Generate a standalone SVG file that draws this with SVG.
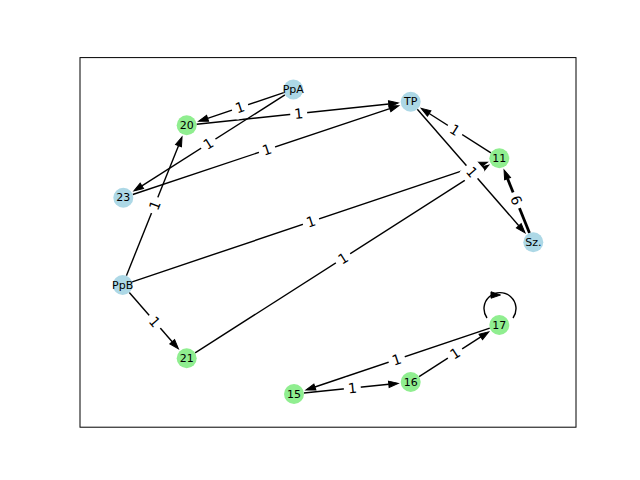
<svg xmlns="http://www.w3.org/2000/svg" width="640" height="480" viewBox="0 0 640 480">
<defs>
<marker id="ah" markerUnits="userSpaceOnUse" markerWidth="14" markerHeight="10" refX="0" refY="0" viewBox="-1 -5 12 10" orient="auto" overflow="visible">
<path d="M0,-3.2 L9.5,0 L0,3.2 Z" fill="#000" stroke="#000" stroke-width="1" stroke-linejoin="miter"/>
</marker>
</defs>
<style>
.e{stroke:#000;stroke-width:1.4;fill:none;marker-end:url(#ah)}
.nb{fill:#add8e6}
.ng{fill:#90ee90}
.nt{font-family:"DejaVu Sans",sans-serif;font-size:11px;text-anchor:middle;dominant-baseline:central;fill:#000}
.lt{font-family:"DejaVu Sans",sans-serif;font-size:14px;text-anchor:middle;dominant-baseline:central;fill:#000}
.lb{fill:#fff}
</style>
<rect width="640" height="480" fill="#fff"/>
<rect x="80" y="57.6" width="496" height="369.6" fill="none" stroke="#000" stroke-width="1"/>
<g id="connectors">
<line class="e" x1="283.8" y1="92.7" x2="207.6" y2="118.3"/>
<line class="e" x1="284.9" y1="94.9" x2="141.9" y2="185.9"/>
<line class="e" x1="196.6" y1="124.3" x2="388.8" y2="104.0"/>
<line class="e" x1="132.8" y1="194.5" x2="389.8" y2="108.7"/>
<line class="e" x1="126.4" y1="275.7" x2="178.5" y2="145.7"/>
<line class="e" x1="132.2" y1="281.8" x2="478.4" y2="165.3"/>
<line class="e" x1="129.3" y1="292.5" x2="172.2" y2="341.7"/>
<line class="e" x1="195.1" y1="352.9" x2="480.8" y2="170.2"/>
<line class="e" x1="417.3" y1="109.2" x2="518.8" y2="225.7"/>
<line class="e" x1="490.9" y1="152.9" x2="429.2" y2="113.5"/>
<line class="e" x1="529.5" y1="233.0" x2="507.6" y2="178.7" style="stroke-width:2.8"/>
<line class="e" x1="489.8" y1="328.2" x2="314.9" y2="387.0"/>
<line class="e" x1="303.9" y1="393.0" x2="388.8" y2="384.3"/>
<line class="e" x1="419.1" y1="376.6" x2="480.8" y2="336.9"/>
<path d="M487,318 A16,16 0 1 1 513,318" stroke="#000" stroke-width="1.4" fill="none"/>
<path d="M491,291.8 L500.5,295 L491,298.2 Z" fill="#000" stroke="#000" stroke-width="1"/>
</g>
<g id="edge-labels">
<g transform="translate(240,107.4) rotate(-18.6)"><rect class="lb" x="-8.5" y="-11" width="17" height="22" rx="4"/><text class="lt">1</text></g>
<g transform="translate(208.3,143.6) rotate(-32.5)"><rect class="lb" x="-8.5" y="-11" width="17" height="22" rx="4"/><text class="lt">1</text></g>
<g transform="translate(298.7,113.5) rotate(-6)"><rect class="lb" x="-8.5" y="-11" width="17" height="22" rx="4"/><text class="lt">1</text></g>
<g transform="translate(267,149.7) rotate(-18.5)"><rect class="lb" x="-8.5" y="-11" width="17" height="22" rx="4"/><text class="lt">1</text></g>
<g transform="translate(154.7,205.2) rotate(-68.2)"><rect class="lb" x="-8.5" y="-11" width="17" height="22" rx="4"/><text class="lt">1</text></g>
<g transform="translate(311,221.7) rotate(-18.6)"><rect class="lb" x="-8.5" y="-11" width="17" height="22" rx="4"/><text class="lt">1</text></g>
<g transform="translate(154.7,321.7) rotate(48.9)"><rect class="lb" x="-8.5" y="-11" width="17" height="22" rx="4"/><text class="lt">1</text></g>
<g transform="translate(343,258.3) rotate(-32.6)"><rect class="lb" x="-8.5" y="-11" width="17" height="22" rx="4"/><text class="lt">1</text></g>
<g transform="translate(472,172) rotate(48.9)"><rect class="lb" x="-8.5" y="-11" width="17" height="22" rx="4"/><text class="lt">1</text></g>
<g transform="translate(455,130) rotate(32.6)"><rect class="lb" x="-8.5" y="-11" width="17" height="22" rx="4"/><text class="lt">1</text></g>
<g transform="translate(516.3,200.3) rotate(68)"><rect class="lb" x="-8.5" y="-11" width="17" height="22" rx="4"/><text class="lt">6</text></g>
<g transform="translate(396.7,359.5) rotate(-18.6)"><rect class="lb" x="-8.5" y="-11" width="17" height="22" rx="4"/><text class="lt">1</text></g>
<g transform="translate(352.3,388) rotate(-5.9)"><rect class="lb" x="-8.5" y="-11" width="17" height="22" rx="4"/><text class="lt">1</text></g>
<g transform="translate(455,353.5) rotate(-32.8)"><rect class="lb" x="-8.5" y="-11" width="17" height="22" rx="4"/><text class="lt">1</text></g>
</g>
<g id="node-PpA"><circle class="nb" cx="293.3" cy="89.5" r="10"/><text class="nt" x="293.3" y="89.5">PpA</text></g>
<g id="node-20"><circle class="ng" cx="186.7" cy="125.3" r="10"/><text class="nt" x="186.7" y="125.3">20</text></g>
<g id="node-23"><circle class="nb" cx="123.3" cy="197.7" r="10"/><text class="nt" x="123.3" y="197.7">23</text></g>
<g id="node-TP"><circle class="nb" cx="410.7" cy="101.7" r="10"/><text class="nt" x="410.7" y="101.7">TP</text></g>
<g id="node-11"><circle class="ng" cx="499.3" cy="158.3" r="10"/><text class="nt" x="499.3" y="158.3">11</text></g>
<g id="node-Sz"><circle class="nb" cx="533.3" cy="242.3" r="10"/><text class="nt" x="533.3" y="242.3">Sz.</text></g>
<g id="node-PpB"><circle class="nb" cx="122.7" cy="285" r="10"/><text class="nt" x="122.7" y="285">PpB</text></g>
<g id="node-21"><circle class="ng" cx="186.7" cy="358.3" r="10"/><text class="nt" x="186.7" y="358.3">21</text></g>
<g id="node-15"><circle class="ng" cx="294" cy="394" r="10"/><text class="nt" x="294" y="394">15</text></g>
<g id="node-16"><circle class="ng" cx="410.7" cy="382" r="10"/><text class="nt" x="410.7" y="382">16</text></g>
<g id="node-17"><circle class="ng" cx="499.3" cy="325" r="10"/><text class="nt" x="499.3" y="325">17</text></g>
</svg>
